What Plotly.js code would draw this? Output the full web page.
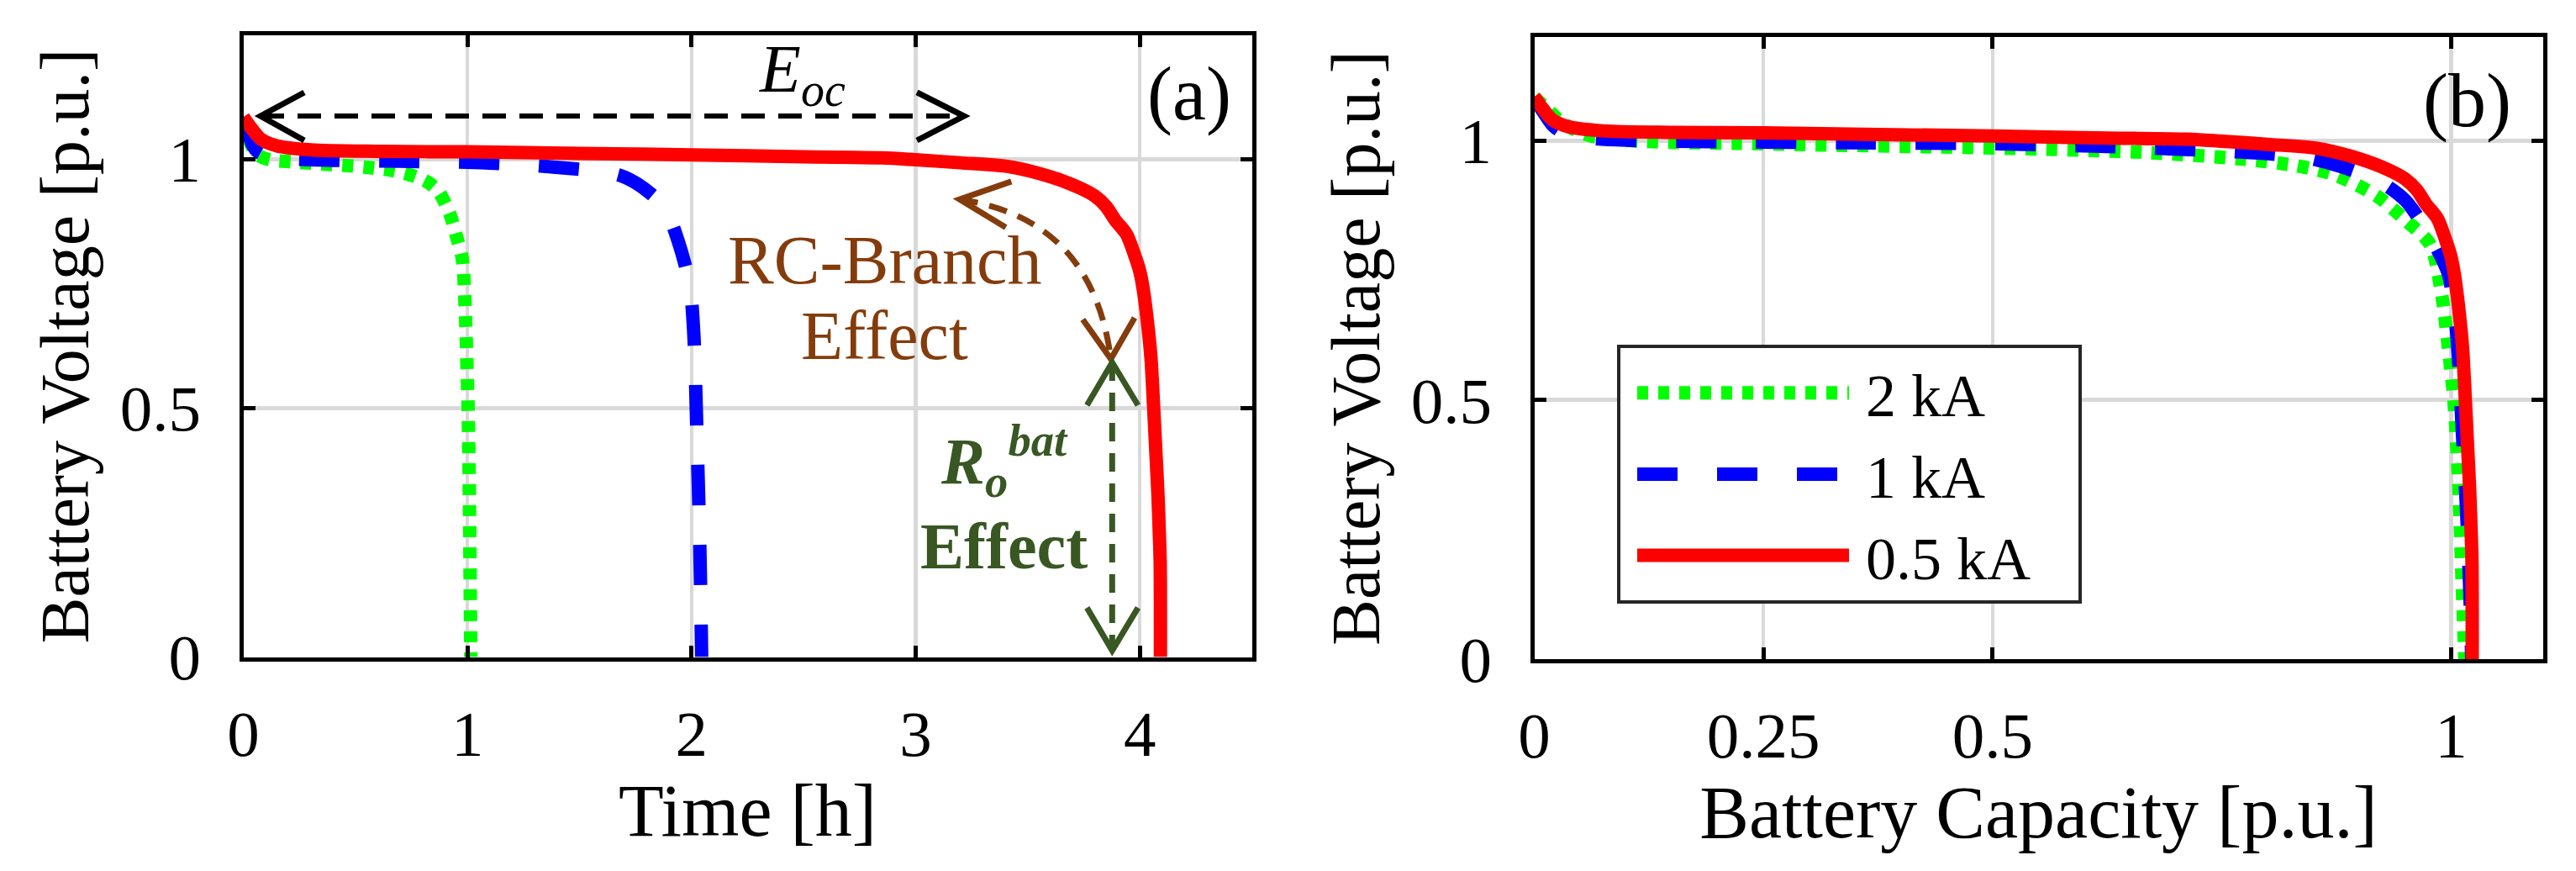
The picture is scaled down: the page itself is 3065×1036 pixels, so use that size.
<!DOCTYPE html>
<html>
<head>
<meta charset="utf-8">
<script src="https://cdn.plot.ly/plotly-3.0.1.min.js"></script>
<style>
html,body{margin:0;padding:0;background:#fff;}
#chart{width:3065px;height:1036px;}
</style>
</head>
<body>
<div id="chart"></div>
<script>
// ---------- data ----------
const seriesNames = ['2 kA', '1 kA', '0.5 kA'];

// 2 kA discharge
const time2kA = [0, 0.015, 0.03, 0.06, 0.116, 0.22, 0.34, 0.44, 0.55, 0.67, 0.77, 0.83, 0.873, 0.92, 0.95, 0.977, 0.99, 0.997, 1.003, 1.008, 1.012, 1.015];
const cap2kA  = [0, 0.015, 0.03, 0.06, 0.116, 0.22, 0.34, 0.44, 0.55, 0.67, 0.77, 0.83, 0.873, 0.92, 0.95, 0.977, 0.99, 0.997, 1.003, 1.008, 1.012, 1.015];
const volt2kA = [1.083, 1.06, 1.035, 1.01, 0.999, 0.995, 0.991, 0.988, 0.984, 0.977, 0.965, 0.952, 0.934, 0.892, 0.847, 0.80, 0.70, 0.60, 0.50, 0.35, 0.15, 0];

// 1 kA discharge
const time1kA = [0, 0.02, 0.04, 0.062, 0.1, 0.2, 0.4, 0.7, 1.0, 1.2, 1.34, 1.5, 1.6, 1.685, 1.76, 1.85, 1.9, 1.94, 1.97, 1.994, 2.01, 2.018, 2.025, 2.033, 2.04, 2.045];
const cap1kA  = [0, 0.01, 0.02, 0.031, 0.05, 0.1, 0.2, 0.35, 0.5, 0.6, 0.67, 0.75, 0.8, 0.8425, 0.88, 0.925, 0.95, 0.97, 0.985, 0.997, 1.005, 1.009, 1.0125, 1.0165, 1.02, 1.0225];
const volt1kA = [1.083, 1.055, 1.03, 1.016, 1.007, 1.001, 0.998, 0.996, 0.994, 0.99, 0.986, 0.98, 0.975, 0.967, 0.95, 0.918, 0.885, 0.836, 0.79, 0.743, 0.65, 0.55, 0.43, 0.30, 0.15, 0];

// 0.5 kA discharge
const time05kA = [0, 0.04, 0.08, 0.15, 0.3, 0.6, 1.0, 1.5, 2.0, 2.5, 2.85, 3.0, 3.2, 3.42, 3.6, 3.73, 3.8, 3.85, 3.89, 3.94, 3.975, 4.0, 4.015, 4.035, 4.05, 4.062, 4.073, 4.081, 4.087, 4.091, 4.092];
const cap05kA  = [0, 0.01, 0.02, 0.0375, 0.075, 0.15, 0.25, 0.375, 0.5, 0.625, 0.7125, 0.75, 0.8, 0.855, 0.9, 0.9325, 0.95, 0.9625, 0.9725, 0.985, 0.99375, 1.0, 1.00375, 1.00875, 1.0125, 1.0155, 1.01825, 1.02025, 1.02175, 1.02275, 1.023];
const volt05kA = [1.085, 1.06, 1.04, 1.027, 1.019, 1.016, 1.015, 1.012, 1.009, 1.005, 1.003, 0.999, 0.993, 0.985, 0.965, 0.943, 0.926, 0.905, 0.878, 0.85, 0.81, 0.775, 0.74, 0.67, 0.60, 0.50, 0.40, 0.3265, 0.25, 0.189, 0];

// ticks
const xTickValsA = [0, 1, 2, 3, 4];
const xTickTextA = ['0', '1', '2', '3', '4'];
const xTickValsB = [0, 0.25, 0.5, 1];
const xTickTextB = ['0', '0.25', '0.5', '1'];
const yTickVals = [0, 0.5, 1];
const yTickText = ['0', '0.5', '1'];

// ---------- styling ----------
const W = 3065, H = 1036;
const FONT = 'Liberation Serif, Times New Roman, serif';
const GREEN = '#00ff00', BLUE = '#0000ff', RED = '#ff0000';
const BROWN = '#843c0c', DKGREEN = '#385723';

const lineStyles = [
  {color: GREEN, width: 16, dash: '13px,12px', shape: 'spline', smoothing: 0.8},
  {color: BLUE, width: 16, dash: '48px,47px', shape: 'spline', smoothing: 0.8},
  {color: RED, width: 16, dash: 'solid', shape: 'spline', smoothing: 0.8}
];

const timeSets = [time2kA, time1kA, time05kA];
const capSets = [cap2kA, cap1kA, cap05kA];
const voltSets = [volt2kA, volt1kA, volt05kA];

const data = [];
for (let i = 0; i < 3; i++) {
  data.push({x: timeSets[i], y: voltSets[i], xaxis: 'x', yaxis: 'y', type: 'scatter', mode: 'lines',
    name: seriesNames[i], showlegend: false, line: lineStyles[i], hoverinfo: 'skip'});
}
for (let i = 0; i < 3; i++) {
  data.push({x: capSets[i], y: voltSets[i], xaxis: 'x2', yaxis: 'y2', type: 'scatter', mode: 'lines',
    name: seriesNames[i], showlegend: true, line: lineStyles[i], hoverinfo: 'skip'});
}

function axis(extra) {
  return Object.assign({
    showline: true, linecolor: '#000', linewidth: 5, mirror: 'ticks',
    ticks: 'inside', ticklen: 14, tickwidth: 5, tickcolor: '#000',
    showgrid: true, gridcolor: '#d9d9d9', gridwidth: 4.5, zeroline: false,
    tickfont: {family: FONT, size: 77, color: '#000'}, automargin: false, fixedrange: true
  }, extra);
}
const xTitleFont = {family: FONT, size: 88, color: '#000'};
const yTitleFont = {family: FONT, size: 82, color: '#000'};

const layout = {
  width: W, height: H,
  margin: {l: 0, r: 0, t: 0, b: 0},
  paper_bgcolor: '#fff', plot_bgcolor: '#fff',
  font: {family: FONT, color: '#000'},
  xaxis: axis({domain: [289.5 / W, 1489.5 / W], range: [0, 4.5], tickvals: xTickValsA, ticktext: xTickTextA,
    anchor: 'y', ticklabelstandoff: 20, title: {text: 'Time [h]', font: xTitleFont, standoff: 16}}),
  yaxis: axis({domain: [(H - 781.5) / H, (H - 41.5) / H], range: [0, 1.25], tickvals: yTickVals, ticktext: yTickText,
    anchor: 'x', ticklabelstandoff: 30, title: {text: 'Battery Voltage [p.u.]', font: yTitleFont, standoff: 12}}),
  xaxis2: axis({domain: [1825.5 / W, 3025.5 / W], range: [0, 1.1], tickvals: xTickValsB, ticktext: xTickTextB,
    anchor: 'y2', ticklabelstandoff: 20, title: {text: 'Battery Capacity [p.u.]', font: xTitleFont, standoff: 16}}),
  yaxis2: axis({domain: [(H - 784) / H, (H - 44) / H], range: [0, 1.2], tickvals: yTickVals, ticktext: yTickText,
    anchor: 'x2', ticklabelstandoff: 30, title: {text: 'Battery Voltage [p.u.]', font: yTitleFont, standoff: 12}}),
  legend: {
    x: 1924 / W, y: 1 - 410 / H, xanchor: 'left', yanchor: 'top',
    bgcolor: '#fff', bordercolor: '#262626', borderwidth: 4,
    font: {family: FONT, size: 72, color: '#000'},
    itemwidth: 282, tracegroupgap: 0, traceorder: 'normal'
  },
  shapes: [
    // E_oc double arrow
    {type: 'line', xref: 'x', yref: 'y', x0: 0.0769, y0: 1.087, x1: 3.2156, y1: 1.087,
      line: {color: '#000', width: 6, dash: '28px,16px'}},
    {type: 'path', xref: 'x', yref: 'y', path: 'M0.2719,1.1343 L0.0769,1.087 L0.2719,1.0380', line: {color: '#000', width: 7}},
    {type: 'path', xref: 'x', yref: 'y', path: 'M3.0056,1.1343 L3.2156,1.087 L3.0056,1.0380', line: {color: '#000', width: 7}},
    // RC-branch curved arrow
    {type: 'path', xref: 'x', yref: 'y', path: 'M3.1958,0.9195 Q3.7894,0.8809 3.8708,0.5988',
      line: {color: BROWN, width: 7, dash: '22px,14px'}},
    {type: 'path', xref: 'x', yref: 'y', path: 'M3.4268,0.9554 L3.1958,0.9196 L3.402,0.8630', line: {color: BROWN, width: 7}},
    {type: 'path', xref: 'x', yref: 'y', path: 'M3.7455,0.6782 L3.8708,0.5988 L3.9769,0.6816', line: {color: BROWN, width: 7}},
    // R_o effect vertical arrow
    {type: 'line', xref: 'x', yref: 'y', x0: 3.8768, y0: 0.5921, x1: 3.8768, y1: 0.0128,
      line: {color: DKGREEN, width: 7, dash: '22px,14px'}},
    {type: 'path', xref: 'x', yref: 'y', path: 'M3.7643,0.5059 L3.8768,0.5921 L3.9919,0.5059', line: {color: DKGREEN, width: 7}},
    {type: 'path', xref: 'x', yref: 'y', path: 'M3.7643,0.0990 L3.8768,0.0128 L3.9919,0.0990', line: {color: DKGREEN, width: 7}}
  ],
  annotations: [
    {xref: 'x', yref: 'y', x: 4.2206, y: 1.1309, text: '(a)', showarrow: false, font: {family: FONT, size: 90, color: '#000'}},
    {xref: 'x2', yref: 'y2', x: 1.0171, y: 1.0767, text: '(b)', showarrow: false, font: {family: FONT, size: 90, color: '#000'}},
    {xref: 'x', yref: 'y', x: 2.4956, y: 1.1715, text: '<i>E</i><sub><i>oc</i></sub>', showarrow: false, font: {family: FONT, size: 80, color: '#000'}},
    {xref: 'x', yref: 'y', x: 2.8631, y: 0.7981, text: 'RC-Branch', showarrow: false, font: {family: FONT, size: 82, color: BROWN}},
    {xref: 'x', yref: 'y', x: 2.8631, y: 0.6461, text: 'Effect', showarrow: false, font: {family: FONT, size: 82, color: BROWN}},
    {xref: 'x', yref: 'y', x: 3.3919, y: 0.318,
      text: '<b><i>R<sub>o</sub><sup>bat</sup></i></b><br><b>Effect</b>', showarrow: false, align: 'center',
      font: {family: FONT, size: 78, color: DKGREEN}}
  ]
};

Plotly.newPlot('chart', data, layout, {displayModeBar: false, staticPlot: true}).then(function (gd) {
  gd.querySelectorAll('.legend .legendlines path').forEach(function (p) {
    var d = p.getAttribute('d') || '';
    var m = d.match(/^M\s*([-\d.eE]+)[ ,]\s*([-\d.eE]+)/);
    if (m) {
      var x0 = parseFloat(m[1]) + 15, y0 = parseFloat(m[2]);
      p.setAttribute('d', 'M' + x0 + ',' + y0 + 'h252');
    }
    p.style.strokeWidth = '16px';
  });
  var bg = gd.querySelector('.legend rect.bg');
  if (bg) {
    var curW = parseFloat(bg.getAttribute('width')) || 0;
    if (curW < 549) bg.setAttribute('width', 549);
  }
});
</script>
</body>
</html>
